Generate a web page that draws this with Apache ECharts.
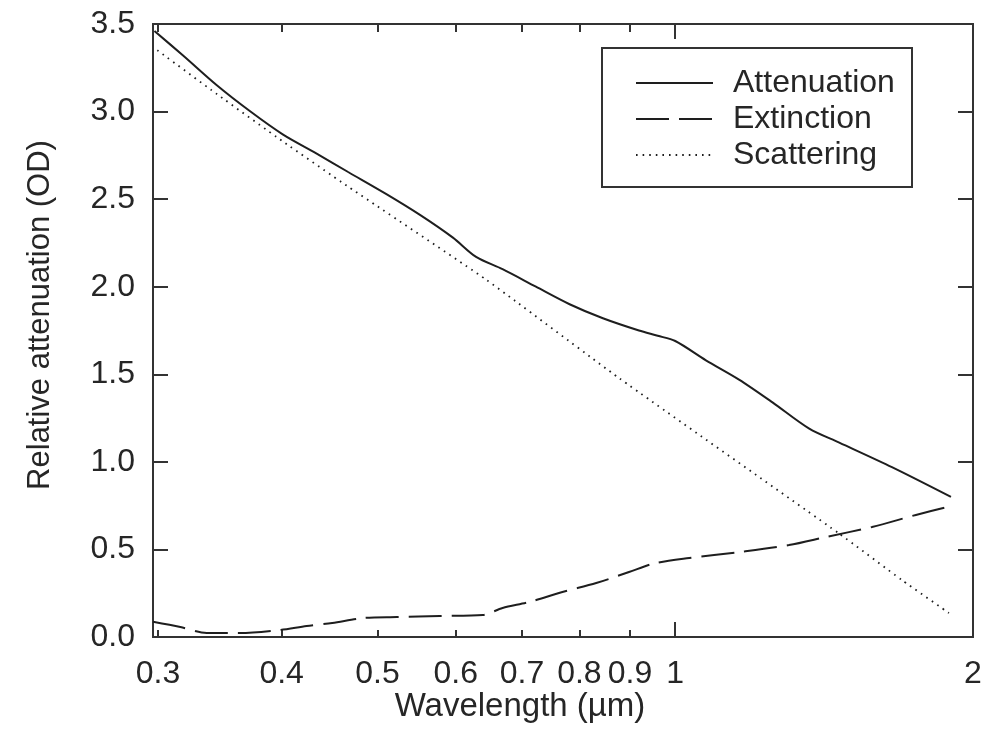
<!DOCTYPE html>
<html>
<head>
<meta charset="utf-8">
<script src="https://cdn.jsdelivr.net/npm/echarts@6/dist/echarts.min.js"></script>
<style>
  html, body { margin: 0; padding: 0; background: #ffffff; }
  #chart { width: 987px; height: 729px; }
</style>
</head>
<body>
<div id="chart"></div>
<script>
// Wavelength axis (log scale, µm)
const xMin = 0.2965;
const xMax = 2;
const xLabelTicks = [0.3, 0.4, 0.5, 0.6, 0.7, 0.8, 0.9, 1, 2];
const xMinorTicks = [0.3, 0.4, 0.5, 0.6, 0.7, 0.8, 0.9];
const xMajorTicks = [1, 2];

// Optical density axis
const yMin = 0;
const yMax = 3.5;
const yStep = 0.5;

// Series: [wavelength µm, relative attenuation OD]
const attenuation = [
  [0.2975, 3.46], [0.318, 3.32], [0.344, 3.15], [0.372, 3.00], [0.401, 2.87],
  [0.434, 2.76], [0.467, 2.655], [0.51, 2.53], [0.552, 2.41], [0.596, 2.28],
  [0.629, 2.17], [0.669, 2.10], [0.723, 2.00], [0.782, 1.90], [0.845, 1.82],
  [0.919, 1.75], [0.96, 1.72], [1.0, 1.69], [1.074, 1.58], [1.16, 1.47],
  [1.254, 1.34], [1.366, 1.19], [1.465, 1.11], [1.656, 0.97], [1.90, 0.80]
];
const extinction = [
  [0.2965, 0.087], [0.316, 0.057], [0.336, 0.023], [0.363, 0.023], [0.398, 0.04],
  [0.424, 0.063], [0.45, 0.08], [0.483, 0.108], [0.523, 0.114], [0.578, 0.12],
  [0.639, 0.126], [0.669, 0.166], [0.712, 0.20], [0.769, 0.257], [0.832, 0.308],
  [0.898, 0.371], [0.952, 0.42], [1.033, 0.451], [1.16, 0.485], [1.303, 0.525],
  [1.42, 0.571], [1.581, 0.628], [1.751, 0.697], [1.90, 0.748]
];
const scattering = [
  [0.2995, 3.35], [0.344, 3.10], [0.401, 2.83], [0.466, 2.575],
  [0.644, 2.04], [0.878, 1.477], [1.465, 0.59], [1.695, 0.325], [1.891, 0.137]
];

const seriesNames = ['Attenuation', 'Extinction', 'Scattering'];

const ink = '#1e1e1e';
const frame = '#333333';
const textColor = '#262626';
const fontFamily = '"Liberation Sans", Arial, Helvetica, sans-serif';

function fmtWavelength(v) {
  return String(+Number(v).toPrecision(3));
}

function xAxisBase(position, tickValues, tickLen, showLabels) {
  return {
    type: 'log',
    logBase: 10,
    position: position,
    min: xMin,
    max: xMax,
    axisLine: { show: true, onZero: false, lineStyle: { color: frame, width: 2 } },
    axisTick: {
      show: true, inside: true, length: tickLen,
      customValues: tickValues,
      lineStyle: { color: frame, width: 2 }
    },
    axisLabel: showLabels ? {
      show: true,
      customValues: xLabelTicks,
      formatter: fmtWavelength,
      margin: 21,
      color: textColor,
      fontSize: 32,
      fontFamily: fontFamily
    } : { show: false },
    splitLine: { show: false },
    minorTick: { show: false }
  };
}

function yAxisBase(position, showLabels) {
  return {
    type: 'value',
    position: position,
    min: yMin,
    max: yMax,
    interval: yStep,
    axisLine: { show: true, onZero: false, lineStyle: { color: frame, width: 2 } },
    axisTick: { show: true, inside: true, length: 15, lineStyle: { color: frame, width: 2 } },
    axisLabel: showLabels ? {
      show: true,
      formatter: v => v.toFixed(1),
      margin: 18,
      color: textColor,
      fontSize: 32,
      fontFamily: fontFamily
    } : { show: false },
    splitLine: { show: false }
  };
}

const chart = echarts.init(document.getElementById('chart'), null, { renderer: 'canvas' });

chart.setOption({
  animation: false,
  backgroundColor: '#ffffff',
  grid: { left: 153, right: 14, top: 24, bottom: 92, containLabel: false },
  xAxis: [
    xAxisBase('bottom', xMinorTicks, 7, true),
    xAxisBase('bottom', xMajorTicks, 15, false),
    xAxisBase('top', xMinorTicks, 8, false),
    xAxisBase('top', xMajorTicks, 15, false)
  ],
  yAxis: [
    yAxisBase('left', true),
    yAxisBase('right', false)
  ],
  legend: {
    orient: 'vertical',
    left: 635,
    top: 67,
    padding: 0,
    itemWidth: 77,
    itemHeight: 20,
    itemGap: 4,
    data: seriesNames,
    itemStyle: { opacity: 0 },
    textStyle: {
      color: textColor,
      fontSize: 32,
      fontFamily: fontFamily,
      padding: [0, 0, 0, 15]
    }
  },
  graphic: [
    {
      type: 'rect',
      shape: { x: 602, y: 48, width: 310, height: 139 },
      style: { fill: 'none', stroke: frame, lineWidth: 2 },
      z: 10
    },
    {
      type: 'text',
      x: 520,
      y: 707,
      style: {
        text: 'Wavelength (\u00b5m)',
        fill: textColor,
        font: '33px ' + fontFamily,
        align: 'center',
        verticalAlign: 'middle'
      }
    },
    {
      type: 'text',
      x: 40,
      y: 315,
      rotation: Math.PI / 2,
      style: {
        text: 'Relative attenuation (OD)',
        fill: textColor,
        font: '31px ' + fontFamily,
        align: 'center',
        verticalAlign: 'middle'
      }
    }
  ],
  series: [
    {
      name: seriesNames[0],
      type: 'line',
      data: attenuation,
      symbol: 'none',
      smooth: 0.3,
      lineStyle: { color: ink, width: 2, type: 'solid' },
      itemStyle: { color: ink }
    },
    {
      name: seriesNames[1],
      type: 'line',
      data: extinction,
      symbol: 'none',
      smooth: 0.3,
      lineStyle: { color: ink, width: 2, type: [33, 10] },
      itemStyle: { color: ink }
    },
    {
      name: seriesNames[2],
      type: 'line',
      data: scattering,
      symbol: 'none',
      smooth: 0.15,
      lineStyle: { color: ink, width: 1.8, type: [1.6, 5] },
      itemStyle: { color: ink }
    }
  ]
});
</script>
</body>
</html>
